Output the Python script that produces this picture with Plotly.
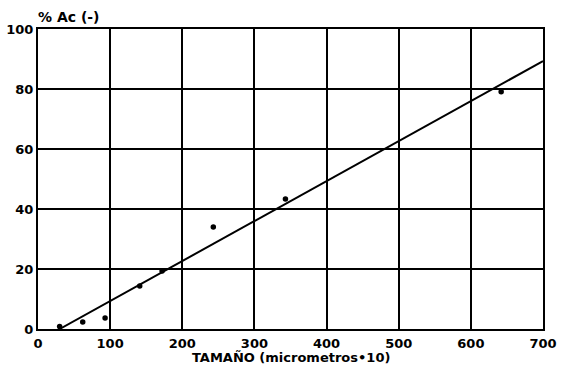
import plotly.graph_objects as go

# Measured points (TAMAÑO, % Ac)
size_x = [30, 62, 93, 141, 172, 243, 343, 642]
pct_y = [0.8, 2.3, 3.7, 14.3, 19.3, 34, 43.3, 79.1]

# Fitted straight line
fit_x = [30, 700]
fit_y = [0, 89.3]

x_ticks = [0, 100, 200, 300, 400, 500, 600, 700]
y_ticks = [0, 20, 40, 60, 80, 100]

font_family = "DejaVu Sans, sans-serif"

fig = go.Figure()
fig.add_trace(go.Scatter(x=fit_x, y=fit_y, mode="lines",
                         line=dict(color="black", width=2), hoverinfo="skip"))
fig.add_trace(go.Scatter(x=size_x, y=pct_y, mode="markers",
                         marker=dict(color="black", size=5.5)))

tick_font = dict(size=13, family=font_family, weight="bold", color="black")

fig.update_layout(
    width=561, height=369,
    margin=dict(l=38, r=18, t=29, b=40),
    paper_bgcolor="white", plot_bgcolor="white",
    showlegend=False,
    font=dict(family=font_family, size=13, color="black"),
    xaxis=dict(range=[0, 700], tickvals=x_ticks, ticktext=[str(v) for v in x_ticks],
               showgrid=True, gridcolor="black", gridwidth=1.5,
               showline=True, linecolor="black", linewidth=2, mirror=True,
               zeroline=False, ticks="", tickfont=tick_font, automargin=False,
               ticklabelstandoff=1),
    yaxis=dict(range=[0, 100], tickvals=y_ticks, ticktext=[str(v) for v in y_ticks],
               showgrid=True, gridcolor="black", gridwidth=1.5,
               showline=True, linecolor="black", linewidth=2, mirror=True,
               zeroline=False, ticks="", tickfont=tick_font, automargin=False),
)

fig.add_annotation(text="% Ac (-)", xref="paper", yref="paper",
                   x=0.0, y=1.0, xanchor="left", yanchor="bottom", yshift=2,
                   xshift=-2, showarrow=False,
                   font=dict(size=14, family=font_family, weight="bold"))

fig.add_annotation(text="TAMAÑO (micrometros•10)", xref="paper", yref="paper",
                   x=0.5, y=0.0, xanchor="center", yanchor="top", yshift=-19,
                   showarrow=False,
                   font=dict(size=13, family=font_family, weight="bold"))

fig.write_html("out.html")
